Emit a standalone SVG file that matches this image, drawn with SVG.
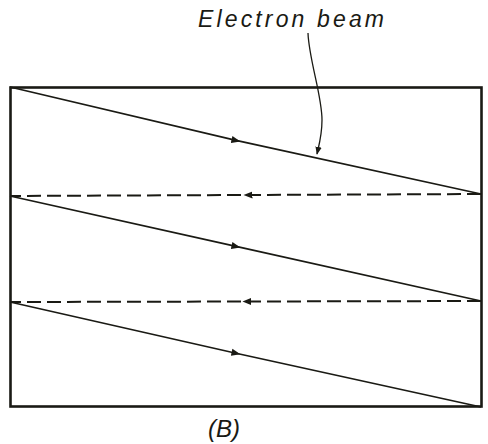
<svg xmlns="http://www.w3.org/2000/svg" width="488" height="444" viewBox="0 0 488 444">
<style>
.frame{fill:none;stroke:#1a1a14;stroke-width:2.6}
.trace{fill:none;stroke:#1a1a14;stroke-width:1.6}
.retrace{fill:none;stroke:#1a1a14;stroke-width:2;stroke-dasharray:14 6}
.lead{fill:none;stroke:#1a1a14;stroke-width:1.3}
.lbl{font-family:"Liberation Sans",Arial,sans-serif;font-style:italic;fill:#1a1a14}
</style>
<defs>
<marker id="ah" viewBox="0 0 10 10" refX="5" refY="5" markerWidth="9" markerHeight="9" markerUnits="userSpaceOnUse" orient="auto">
<path d="M0,1 L10,5 L0,9 Z" fill="#1a1a14"/>
</marker>
<marker id="lh" viewBox="0 0 10 10" refX="9" refY="5" markerWidth="8" markerHeight="8" markerUnits="userSpaceOnUse" orient="auto">
<path d="M0,1 L10,5 L0,9 Z" fill="#1a1a14"/>
</marker>
</defs>
<g id="screen">
<rect class="frame" x="10.5" y="87.5" width="471" height="319"/>
</g>
<g id="connectors">
<path class="trace" d="M10,87 L236,140.4 L481,194" marker-mid="url(#ah)"/>
<path class="trace" d="M10,196 L236,246.4 L481,301" marker-mid="url(#ah)"/>
<path class="trace" d="M10,302 L236,353.3 L481,407" marker-mid="url(#ah)"/>
<path class="retrace" d="M481,194 L248,195 L10,196" marker-mid="url(#ah)"/>
<path class="retrace" d="M481,301 L247,301.5 L10,302" marker-mid="url(#ah)"/>
<path class="lead" d="M308,33 C309,60 322,95 322,120 C322,135 319,145 317,154" marker-end="url(#lh)"/>
</g>
<g id="label-beam">
<text class="lbl" x="198" y="27" font-size="23" textLength="186" lengthAdjust="spacing">Electron beam</text>
</g>
<g id="label-b">
<text class="lbl" x="224" y="437" font-size="24" text-anchor="middle">(B)</text>
</g>
</svg>
